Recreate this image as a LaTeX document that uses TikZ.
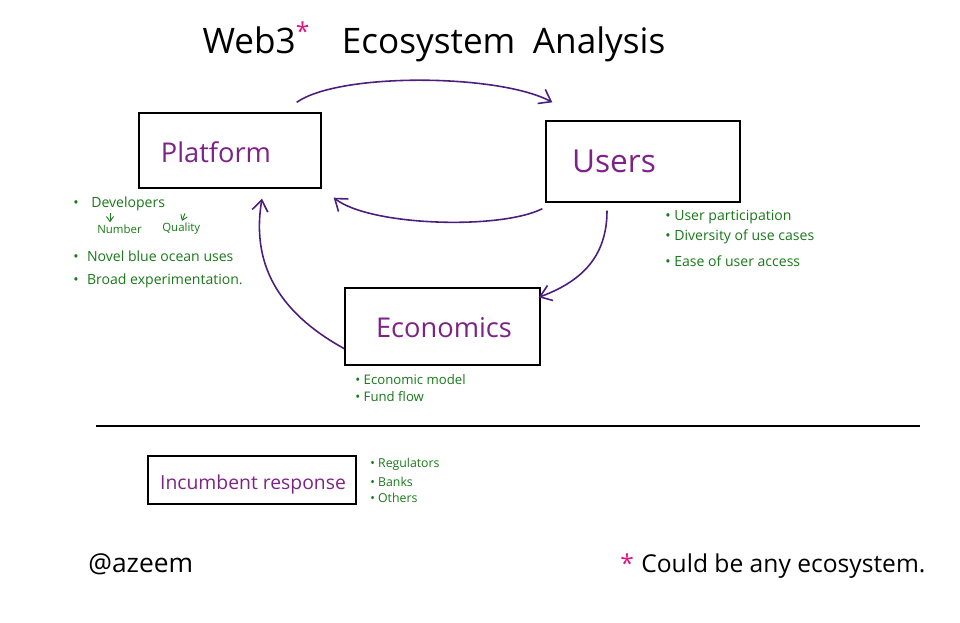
\documentclass[tikz,border=0pt]{standalone}
\usepackage{fontspec}
\setmainfont{Open Sans}
\usetikzlibrary{arrows.meta,calc}
\definecolor{boxpurple}{RGB}{125,35,135}
\definecolor{arrowpurple}{RGB}{75,30,125}
\definecolor{notegreen}{RGB}{25,120,25}
\definecolor{starpink}{RGB}{225,20,130}
\tikzset{
  box/.style={draw=black, line width=0.8pt, inner sep=0pt},
  boxtext/.style={text=boxpurple, inner sep=0pt},
  conn/.style={draw=arrowpurple, line width=0.9pt, -{Straight Barb[length=2.2mm,width=3.2mm]}},
  note/.style={text=notegreen, anchor=west, inner sep=0pt, font=\fontsize{8}{9}\selectfont},
  smallarr/.style={draw=notegreen, line width=0.5pt, -{Straight Barb[length=1mm,width=1.4mm]}},
}
\begin{document}
\begin{tikzpicture}[x=0.02cm,y=-0.02cm]
\useasboundingbox (0,0) rectangle (960,622);

% title
\node[font=\fontsize{20}{24}\selectfont, inner sep=0pt] (title) at (434,42)
  {Web3\textsuperscript{\textcolor{starpink}{*}}\hspace{0.9em}Ecosystem\hspace{0.5em}Analysis};

% boxes
\node[box, minimum width=3.64cm, minimum height=1.5cm] (platform) at (230,150.5) {};
\node[boxtext, font=\fontsize{15.5}{18}\selectfont] (platformtext) at (216,152) {Platform};
\node[box, minimum width=3.88cm, minimum height=1.62cm] (users) at (643,161.5) {};
\node[boxtext, font=\fontsize{18}{21}\selectfont] (userstext) at (614,161) {Users};
\node[box, minimum width=3.9cm, minimum height=1.54cm] (econ) at (442.5,326.5) {};
\node[boxtext, font=\fontsize{15.5}{18}\selectfont] (econtext) at (444,328) {Economics};
\node[box, minimum width=4.16cm, minimum height=0.96cm] (incumbent) at (252,480) {};
\node[boxtext, font=\fontsize{11}{14}\selectfont] (incumbenttext) at (253,484) {Incumbent response};

% connectors
\draw[conn] ($(platform.north east)+(-25,-10)$) .. controls (340,72) and (500,74) .. ($(users.north west)+(7,-18)$);
\draw[conn] ($(users.south west)+(-3,6)$) .. controls (500,230) and (370,226) .. ($(platform.south east)+(12,9)$);
\draw[conn] ($(users.south)+(-36,8)$) .. controls (607,258) and (580,282) .. ($(econ.north east)+(-2,10)$);
\draw[conn] ($(econ.south west)+(0,-17)$) .. controls (285,316) and (250,270) .. ($(platform.south)+(32,10)$);

% separator
\coordinate (sepL) at (96,426);
\coordinate (sepR) at (920,426);
\draw[line width=0.7pt] (sepL) -- (sepR);

% platform notes
\node[note] (dev) at (73,204) {•\hspace{0.9em}Developers};
\node[note, font=\fontsize{6.5}{8}\selectfont] (num) at (97,229) {Number};
\node[note, font=\fontsize{6.5}{8}\selectfont] (qual) at (162,229) {Quality};
\draw[smallarr] ($(dev.south west)+(37,2)$) -- ($(num.north west)+(13,-2)$);
\draw[smallarr] ($(dev.south west)+(112,2)$) -- ($(qual.north west)+(20,-2)$);
\node[note] (novel) at (73,256) {•\hspace{0.6em}Novel blue ocean uses};
\node[note] (broad) at (73,281) {•\hspace{0.6em}Broad experimentation.};

% users notes
\node[note] (up) at (665,217) {• User participation};
\node[note] (div) at (665,237) {• Diversity of use cases};
\node[note] (ease) at (665,261) {• Ease of user access};

% economics notes
\node[note, font=\fontsize{7.5}{9}\selectfont] (em) at (355,380) {• Economic model};
\node[note, font=\fontsize{7.5}{9}\selectfont] (ff) at (355,397) {• Fund flow};

% incumbent notes
\node[note, font=\fontsize{7}{9}\selectfont] (reg) at (370,464) {• Regulators};
\node[note, font=\fontsize{7}{9}\selectfont] (banks) at (370,482) {• Banks};
\node[note, font=\fontsize{7}{9}\selectfont] (others) at (370,498) {• Others};

% footer
\node[anchor=west, inner sep=0pt, font=\fontsize{15}{18}\selectfont] (author) at (88,564) {@azeem};
\node[anchor=west, inner sep=0pt, font=\fontsize{14}{17}\selectfont] (footnote) at (620,566) {\textcolor{starpink}{*}\hspace{0.3em}Could be any ecosystem.};
\end{tikzpicture}
\end{document}
